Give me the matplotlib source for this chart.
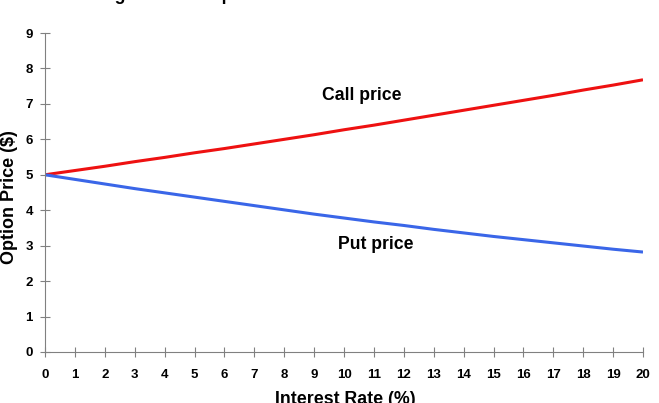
import matplotlib
matplotlib.use("Agg")
import matplotlib.pyplot as plt

rates = list(range(0, 21))
call_price = [5.00, 5.12, 5.24, 5.37, 5.49, 5.62, 5.74, 5.87, 6.00, 6.13, 6.27,
              6.40, 6.54, 6.68, 6.82, 6.96, 7.10, 7.24, 7.39, 7.53, 7.68]
put_price = [5.00, 4.87, 4.74, 4.61, 4.49, 4.37, 4.25, 4.13, 4.01, 3.89, 3.78,
             3.67, 3.57, 3.46, 3.36, 3.26, 3.17, 3.08, 2.99, 2.90, 2.82]
y_ticks = list(range(0, 10))

plt.rcParams['font.family'] = ['Liberation Sans', 'DejaVu Sans']

fig = plt.figure(figsize=(6.59, 4.03), dpi=100)
ax = fig.add_axes([45/659, 1-352/403, 598/659, (352-33)/403])

ax.plot(rates, call_price, color='#ee1111', lw=2.2, solid_capstyle='butt')
ax.plot(rates, put_price, color='#3a66e8', lw=2.2, solid_capstyle='butt')

ax.set_xlim(0, 20)
ax.set_ylim(0, 9)
ax.set_xticks(rates)
ax.set_yticks(y_ticks)
for s in ['top', 'right']:
    ax.spines[s].set_visible(False)
for s in ['left', 'bottom']:
    ax.spines[s].set_color('#808080')
    ax.spines[s].set_linewidth(0.8)
ax.tick_params(axis='both', direction='inout', length=6.5, width=0.8, color='#808080',
               labelsize=9.5)
ax.tick_params(axis='x', pad=9)
ax.tick_params(axis='y', pad=5.5)
for lbl in ax.get_xticklabels() + ax.get_yticklabels():
    lbl.set_fontweight('bold')

fig.text(362/659, 1-96/403, 'Call price', fontsize=12.7, fontweight='bold',
         ha='center', va='center')
fig.text(376/659, 1-245/403, 'Put price', fontsize=12.7, fontweight='bold',
         ha='center', va='center')

fig.text(10/659, 1-197/403, 'Option Price ($)', fontsize=13, fontweight='bold',
         rotation=90, ha='center', va='center')
fig.text(345/659, 1-391/403, 'Interest Rate (%)', fontsize=12.8, fontweight='bold',
         ha='center', va='top')
fig.text(178/659, 1+0.5/403, 'Higher Rate Impact', fontsize=12.7, fontweight='bold',
         ha='center', va='baseline')

fig.savefig('out.png', dpi=100)
